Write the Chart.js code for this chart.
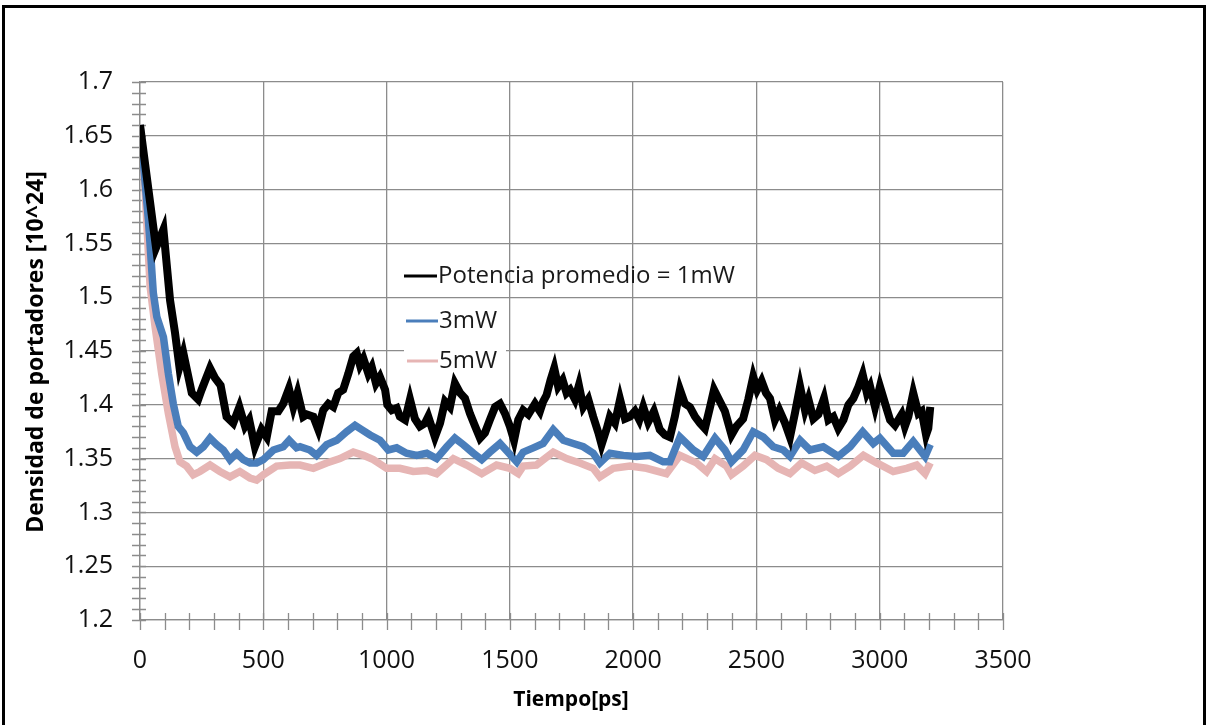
<!DOCTYPE html>
<html>
<head>
<meta charset="utf-8">
<script src="https://cdn.jsdelivr.net/npm/chart.js@4"></script>
<style>
  html, body { margin: 0; padding: 0; background: #fff; }
  #wrap { width: 1208px; height: 725px; }
</style>
</head>
<body>
<div id="wrap"><canvas id="c" width="1208" height="725"></canvas></div>
<script>
// Carrier density vs. time for three average optical powers
const tiempo1mW = [0,65,95,122,142,160,176,210,236,250,284,304,327,351,378,403,426,443,466,493,514,534,561,581,604,622,639,662,676,703,723,743,764,784,804,824,845,865,879,892,906,926,940,957,973,994,1003,1021,1041,1054,1075,1095,1115,1135,1156,1169,1196,1217,1237,1257,1277,1298,1318,1338,1359,1379,1399,1419,1440,1460,1480,1500,1517,1534,1554,1575,1602,1622,1635,1649,1665,1680,1696,1714,1730,1744,1764,1780,1798,1818,1838,1859,1872,1893,1906,1926,1947,1967,1987,2007,2025,2041,2061,2084,2108,2129,2149,2169,2190,2210,2230,2251,2271,2291,2312,2328,2352,2372,2399,2419,2446,2467,2487,2503,2521,2539,2555,2575,2593,2616,2636,2656,2677,2697,2711,2731,2751,2774,2792,2812,2832,2853,2873,2893,2914,2931,2948,2961,2981,3001,3022,3042,3062,3089,3102,3116,3136,3157,3170,3188,3197,3205];
const densidad1mW = [1.660,1.546,1.563,1.497,1.467,1.435,1.448,1.411,1.405,1.414,1.434,1.425,1.418,1.389,1.383,1.398,1.380,1.386,1.361,1.377,1.370,1.394,1.394,1.401,1.415,1.398,1.411,1.389,1.391,1.389,1.377,1.395,1.401,1.398,1.411,1.414,1.429,1.445,1.448,1.437,1.443,1.429,1.435,1.420,1.426,1.414,1.400,1.395,1.397,1.389,1.386,1.405,1.387,1.380,1.383,1.389,1.370,1.383,1.403,1.398,1.420,1.411,1.406,1.392,1.380,1.369,1.374,1.386,1.398,1.401,1.392,1.380,1.367,1.386,1.395,1.391,1.401,1.394,1.403,1.409,1.423,1.434,1.417,1.423,1.411,1.414,1.405,1.418,1.398,1.405,1.389,1.374,1.363,1.378,1.389,1.383,1.405,1.387,1.389,1.394,1.386,1.398,1.384,1.394,1.377,1.372,1.370,1.389,1.414,1.401,1.398,1.389,1.383,1.378,1.398,1.414,1.403,1.394,1.372,1.380,1.387,1.405,1.426,1.414,1.422,1.411,1.406,1.386,1.395,1.383,1.370,1.392,1.417,1.395,1.405,1.387,1.391,1.406,1.386,1.389,1.378,1.386,1.400,1.406,1.417,1.428,1.411,1.417,1.398,1.417,1.401,1.386,1.381,1.391,1.380,1.389,1.411,1.392,1.394,1.372,1.378,1.398];

const tiempo3mW = [0,34,54,68,95,115,135,155,176,203,230,257,284,311,338,365,392,419,446,473,500,541,581,605,635,649,689,716,757,798,838,872,899,933,973,1007,1041,1081,1122,1163,1203,1244,1277,1311,1352,1386,1419,1460,1500,1528,1554,1595,1635,1676,1717,1757,1798,1838,1865,1906,1960,2014,2068,2122,2149,2190,2244,2284,2332,2372,2399,2446,2487,2528,2568,2609,2636,2677,2717,2771,2832,2880,2931,2974,3001,3055,3095,3136,3184,3205];
const densidad3mW = [1.660,1.572,1.504,1.482,1.463,1.429,1.401,1.380,1.374,1.361,1.356,1.361,1.369,1.363,1.358,1.349,1.355,1.349,1.346,1.346,1.349,1.358,1.361,1.367,1.360,1.361,1.358,1.353,1.363,1.367,1.375,1.381,1.377,1.372,1.367,1.358,1.360,1.355,1.353,1.355,1.350,1.361,1.369,1.363,1.355,1.349,1.356,1.364,1.354,1.347,1.356,1.360,1.364,1.377,1.367,1.364,1.361,1.355,1.346,1.355,1.353,1.352,1.353,1.347,1.347,1.370,1.358,1.352,1.369,1.358,1.347,1.358,1.375,1.370,1.361,1.358,1.352,1.367,1.358,1.361,1.352,1.361,1.375,1.364,1.369,1.355,1.355,1.366,1.352,1.363];

const tiempo5mW = [0,20,41,61,88,115,142,162,189,216,243,284,324,365,405,446,473,500,554,608,649,703,757,811,865,906,946,1000,1054,1108,1163,1203,1271,1325,1386,1446,1500,1534,1554,1608,1676,1730,1784,1838,1865,1919,1987,2054,2135,2190,2257,2298,2332,2379,2399,2446,2494,2541,2588,2636,2683,2737,2785,2832,2880,2934,2988,3055,3109,3150,3184,3205];
const densidad5mW = [1.660,1.603,1.510,1.473,1.429,1.392,1.361,1.347,1.343,1.335,1.338,1.344,1.338,1.333,1.338,1.332,1.330,1.335,1.343,1.344,1.344,1.341,1.346,1.350,1.356,1.353,1.349,1.341,1.341,1.338,1.339,1.336,1.350,1.344,1.336,1.344,1.341,1.336,1.343,1.344,1.356,1.350,1.346,1.341,1.333,1.341,1.343,1.341,1.336,1.353,1.346,1.338,1.350,1.343,1.335,1.343,1.353,1.349,1.341,1.336,1.346,1.339,1.343,1.336,1.343,1.353,1.346,1.338,1.341,1.344,1.336,1.346];

const etiquetas = ['Potencia promedio = 1mW', '3mW', '5mW'];
const colores = ['#000000', '#4a7ebb', '#e6b5b4'];

const pts = (t, v) => t.map((x, i) => ({ x: x, y: v[i] }));

const GRID = '#8c8c8c';
const FONT = "'Open Sans', 'DejaVu Sans', sans-serif";

// page frame, minor/major crossing ticks, axis titles and the in-plot legend
const decor = {
  id: 'decor',
  beforeDraw(chart) {
    const ctx = chart.ctx;
    ctx.save();
    ctx.fillStyle = '#fff';
    ctx.fillRect(0, 0, chart.width, chart.height);
    ctx.strokeStyle = '#000';
    ctx.lineWidth = 3;
    ctx.strokeRect(3.5, 6.5, 1201, 760);
    ctx.restore();
  },
  beforeDatasetsDraw(chart) {
    const ctx = chart.ctx, xs = chart.scales.x, ys = chart.scales.y;
    const x0 = xs.getPixelForValue(0), y0 = ys.getPixelForValue(1.2);
    ctx.save();
    ctx.strokeStyle = GRID;
    ctx.lineWidth = 1.3;
    ctx.beginPath();
    for (let k = 0; k <= 50; k++) {
      const y = Math.round(ys.getPixelForValue(1.2 + k * 0.01)) + 0.5;
      ctx.moveTo(x0 - 8, y); ctx.lineTo(x0 + 6, y);
    }
    for (let k = 0; k <= 35; k++) {
      const x = Math.round(xs.getPixelForValue(k * 100)) + 0.5;
      ctx.moveTo(x, y0 - 7); ctx.lineTo(x, y0 + 10);
    }
    ctx.stroke();
    // white box behind the last legend entry
    ctx.fillStyle = '#fff';
    ctx.fillRect(404, 344, 102, 36);
    ctx.restore();
  },
  afterDraw(chart) {
    const ctx = chart.ctx;
    ctx.save();
    ctx.fillStyle = '#000';
    ctx.textAlign = 'center';
    ctx.textBaseline = 'middle';
    ctx.font = 'bold 21px ' + FONT;
    ctx.fillText('Tiempo[ps]', 571, 700);
    ctx.translate(36, 352);
    ctx.rotate(-Math.PI / 2);
    ctx.font = 'bold 23px ' + FONT;
    ctx.fillText('Densidad de portadores [10^24]', 0, 0);
    ctx.restore();

    // legend
    const rows = [
      { y: 276, x1: 404, x2: 437 },
      { y: 321, x1: 406, x2: 438 },
      { y: 361, x1: 407, x2: 438 }
    ];
    ctx.save();
    ctx.font = '24px ' + FONT;
    ctx.textBaseline = 'middle';
    ctx.textAlign = 'left';
    rows.forEach((r, i) => {
      ctx.strokeStyle = colores[i];
      ctx.lineWidth = 3;
      ctx.beginPath();
      ctx.moveTo(r.x1, r.y); ctx.lineTo(r.x2, r.y);
      ctx.stroke();
      ctx.fillStyle = '#1a1a1a';
      ctx.fillText(etiquetas[i], r.x2 + 1, r.y);
    });
    ctx.restore();
  }
};

new Chart(document.getElementById('c'), {
  type: 'line',
  data: {
    datasets: [
      { label: etiquetas[0], data: pts(tiempo1mW, densidad1mW), borderColor: colores[0], borderWidth: 8, order: 1 },
      { label: etiquetas[1], data: pts(tiempo3mW, densidad3mW), borderColor: colores[1], borderWidth: 7.5, order: 2 },
      { label: etiquetas[2], data: pts(tiempo5mW, densidad5mW), borderColor: colores[2], borderWidth: 7.5, order: 3 }
    ]
  },
  options: {
    responsive: false,
    animation: false,
    devicePixelRatio: 1,
    elements: { point: { radius: 0 }, line: { tension: 0, borderJoinStyle: 'miter', borderCapStyle: 'butt' } },
    layout: { padding: { left: 0, right: 205, top: 82, bottom: 0 } },
    plugins: { legend: { display: false }, tooltip: { enabled: false } },
    scales: {
      x: {
        type: 'linear',
        min: 0, max: 3500,
        afterFit(s) { s.height = 105; },
        grid: { color: GRID, lineWidth: 1.3, drawTicks: false },
        border: { color: GRID, width: 1.3 },
        ticks: {
          stepSize: 500, padding: 26, color: '#111', font: { family: FONT, size: 25 }, maxRotation: 0,
          callback: v => String(v)
        }
      },
      y: {
        min: 1.2, max: 1.7,
        afterFit(s) { s.width = 140; },
        grid: { color: GRID, lineWidth: 1.3, drawTicks: false },
        border: { color: GRID, width: 1.3 },
        ticks: {
          stepSize: 0.05, padding: 27, color: '#111', font: { family: FONT, size: 25 },
          callback: v => String(Number(v.toFixed(2)))
        }
      }
    }
  },
  plugins: [decor]
});
</script>
</body>
</html>
